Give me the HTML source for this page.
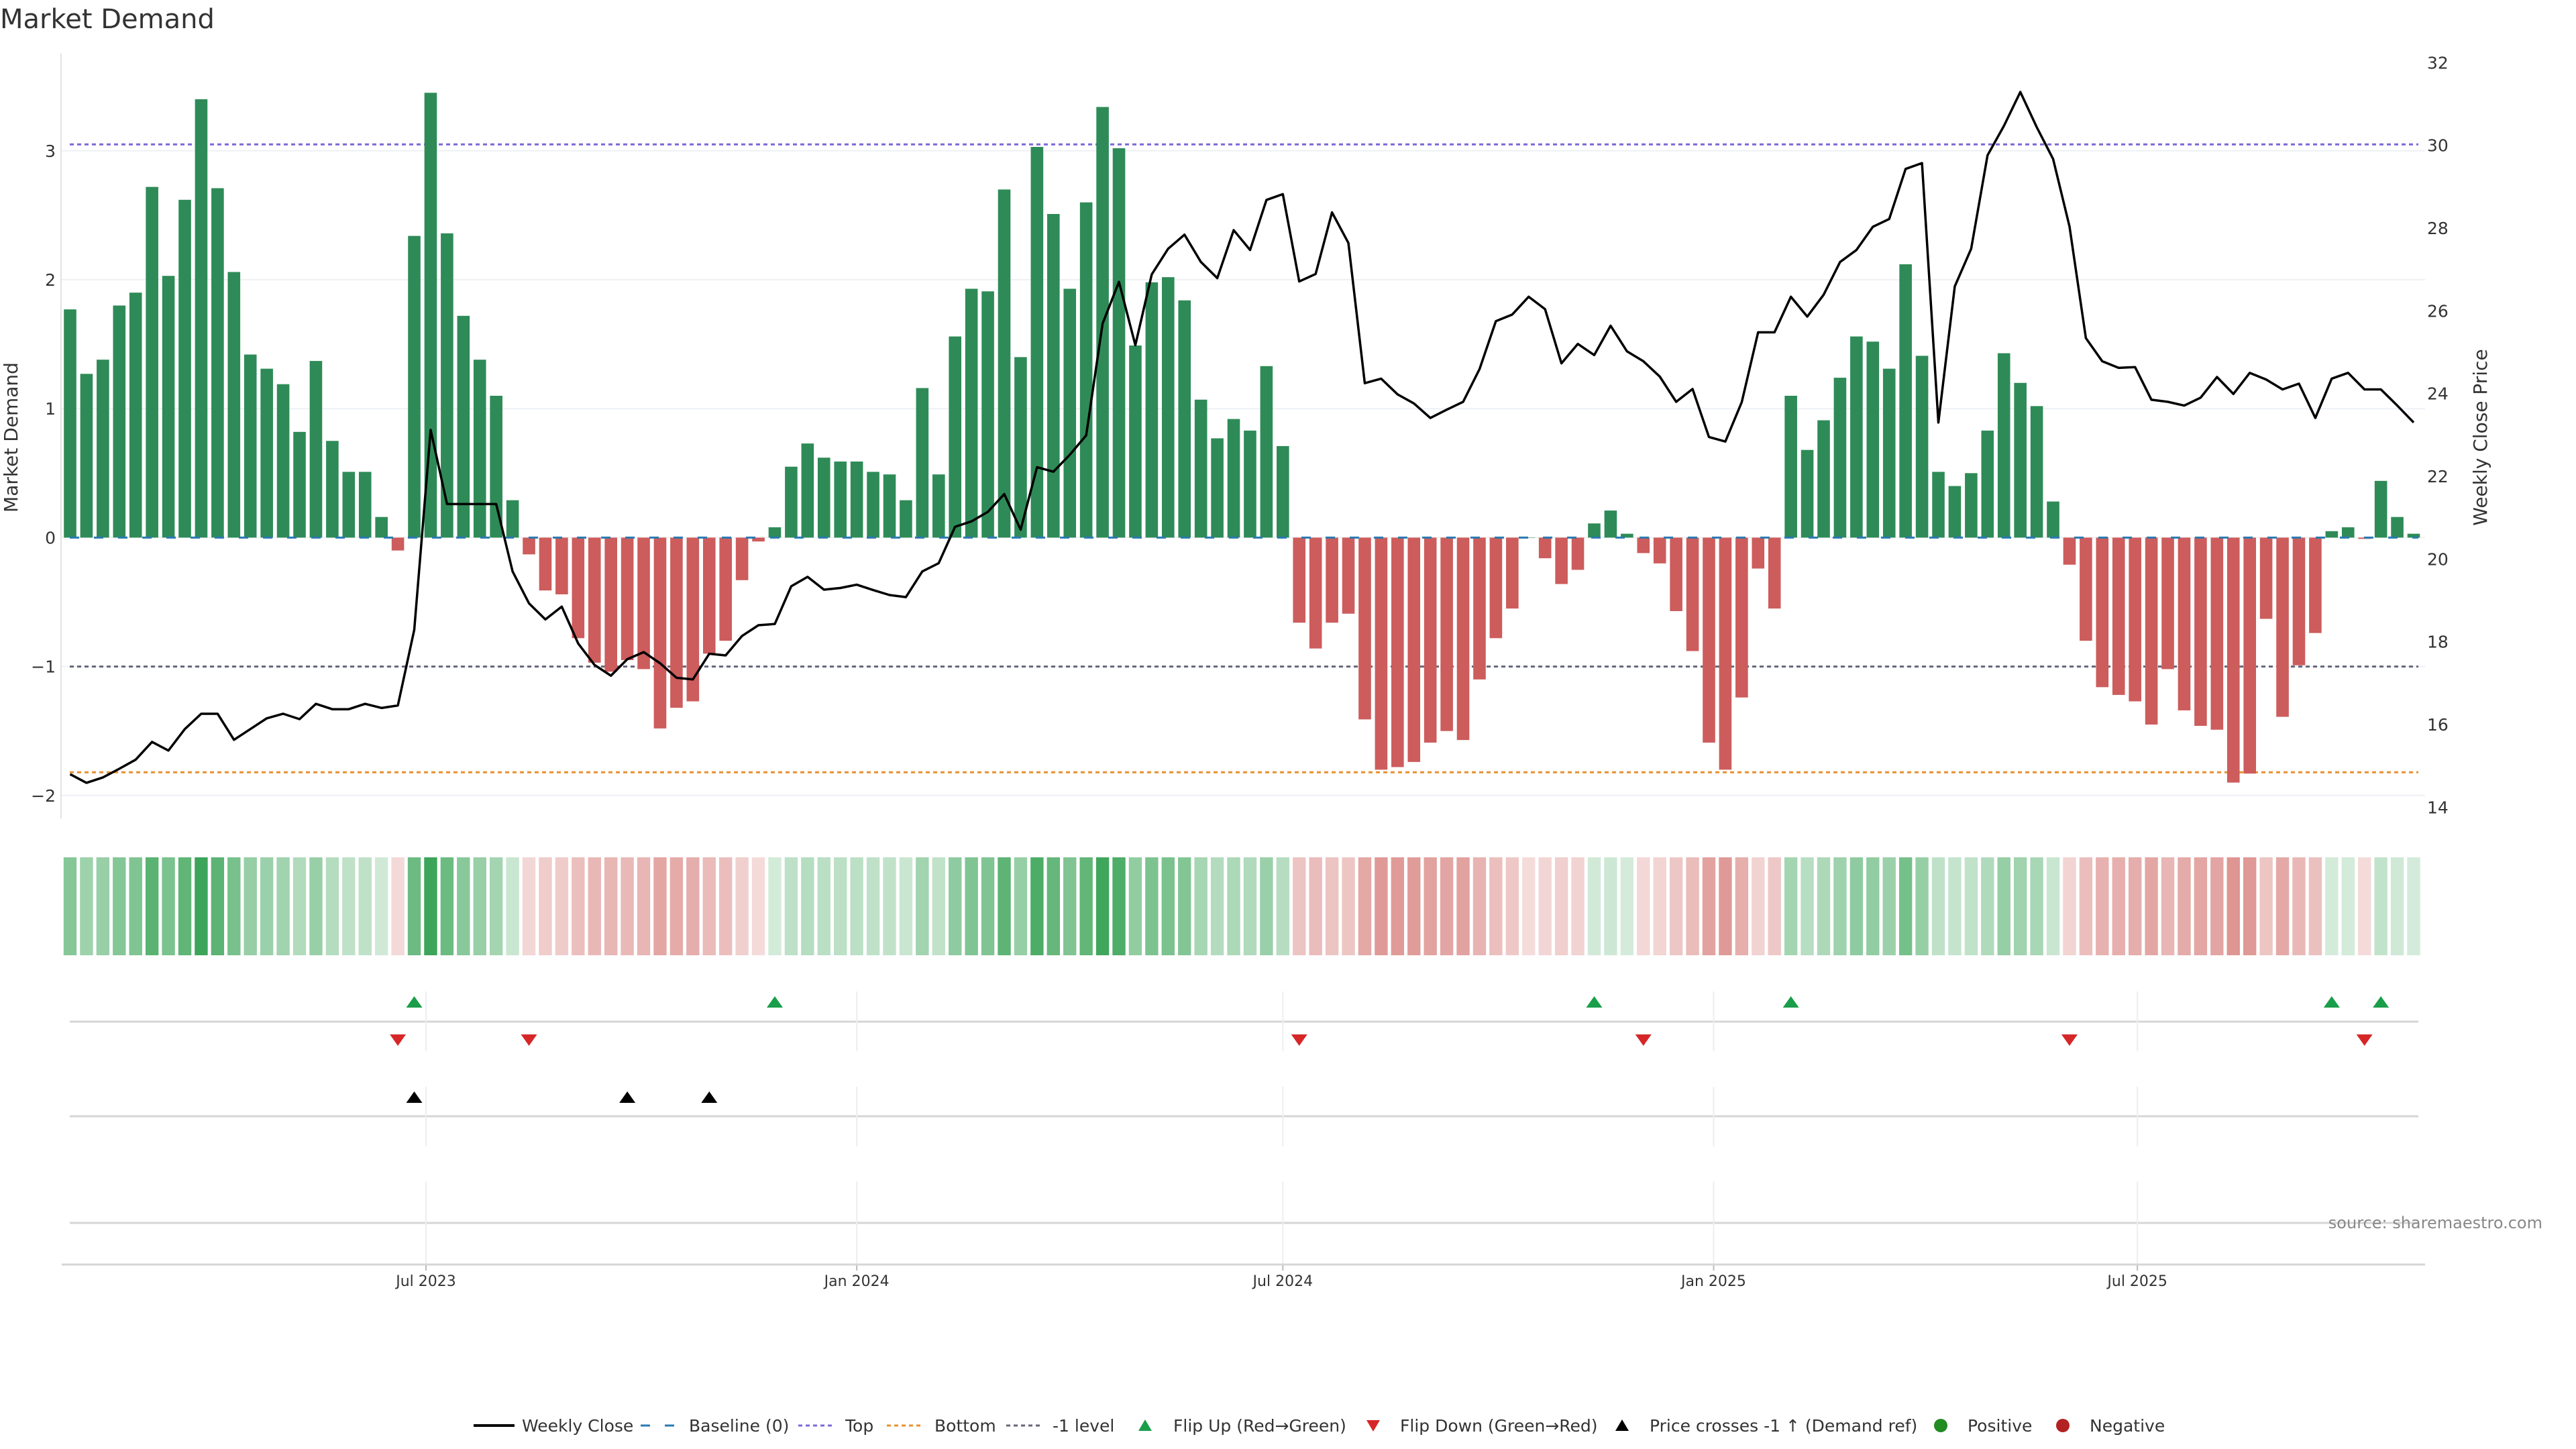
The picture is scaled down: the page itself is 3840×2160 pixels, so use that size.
<!DOCTYPE html>
<html><head><meta charset="utf-8"><title>Market Demand</title>
<style>html,body{margin:0;padding:0;background:#fff;}svg{display:block;font-family:"DejaVu Sans","Liberation Sans",sans-serif;}</style>
</head><body>
<svg id="chart" width="3840" height="2160" viewBox="0 0 3840 2160" xmlns="http://www.w3.org/2000/svg">
<text x="0" y="42" font-size="40" fill="#333">Market Demand</text>
<g id="grid"></g><g id="refs"></g><g id="bars"></g><g id="line"></g><g id="heat"></g><g id="lower"></g><g id="axes"></g><g id="legend"></g>
<text x="3790" y="1831" font-size="24" fill="#888" text-anchor="end">source: sharemaestro.com</text>
</svg>
<script>
const demand = [1.77,1.27,1.38,1.80,1.90,2.72,2.03,2.62,3.40,2.71,2.06,1.42,1.31,1.19,0.82,1.37,0.75,0.51,0.51,0.16,
-0.10,2.34,3.45,2.36,1.72,1.38,1.10,0.29,
-0.13,-0.41,-0.44,-0.78,-0.97,-1.04,-0.95,-1.02,-1.48,-1.32,-1.27,-0.90,-0.80,-0.33,-0.03,
0.08,0.55,0.73,0.62,0.59,0.59,
0.51,0.49,0.29,1.16,0.49,1.56,1.93,1.91,2.70,1.40,3.03,2.51,1.93,2.60,3.34,3.02,1.49,1.98,2.02,1.84,1.07,0.77,0.92,0.83,1.33,0.71,
-0.66,-0.86,-0.66,-0.59,-1.41,-1.80,-1.78,-1.74,-1.59,-1.50,-1.57,-1.10,-0.78,-0.55,0.00,
-0.16,-0.36,-0.25,0.11,0.21,0.03,-0.12,-0.20,-0.57,-0.88,-1.59,-1.80,-1.24,-0.24,-0.55,
1.10,0.68,0.91,1.24,1.56,1.52,1.31,2.12,1.41,0.51,0.40,0.50,0.83,1.43,1.20,1.02,0.28,
-0.21,-0.80,-1.16,-1.22,-1.27,-1.45,-1.02,-1.34,-1.46,-1.49,-1.90,-1.83,-0.63,-1.39,-0.99,-0.74,
0.05,0.08,-0.01,0.44,0.16,0.03];
const price = [14.80,14.59,14.72,14.93,15.15,15.58,15.37,15.89,16.26,16.26,15.63,15.89,16.15,16.26,16.13,16.50,16.37,16.37,16.50,16.40,
16.46,18.29,23.12,21.33,21.33,21.33,21.33,19.70,18.93,18.54,18.85,17.96,17.44,17.18,17.58,17.75,17.48,17.13,17.09,17.71,
17.67,18.14,18.40,18.43,19.34,19.57,19.26,19.30,19.38,19.25,19.13,19.08,19.70,19.90,20.78,20.91,21.14,21.57,20.71,22.22,
22.11,22.52,22.99,25.69,26.70,25.17,26.88,27.50,27.84,27.18,26.79,27.95,27.47,28.68,28.82,26.71,26.89,28.38,27.64,24.25,
24.36,23.98,23.76,23.41,23.61,23.80,24.59,25.75,25.91,26.34,26.04,24.73,25.20,24.93,25.64,25.02,24.78,24.41,23.80,24.11,
22.95,22.84,23.79,25.48,25.48,26.34,25.86,26.39,27.18,27.47,28.03,28.22,29.43,29.57,23.30,26.59,27.50,29.76,30.47,31.29,
30.44,29.67,28.04,25.34,24.78,24.62,24.64,23.85,23.80,23.71,23.90,24.40,23.99,24.50,24.34,24.10,24.24,23.41,24.36,24.50,
24.10,24.10,23.71,23.30];
const demandTicks = [-2,-1,0,1,2,3];
const demandTickLabels = ["\u22122","\u22121","0","1","2","3"];
const priceTicks = [14,16,18,20,22,24,26,28,30,32];
const refLevels = [3.05,-1,-1.82];
const dateTicks = ["2023-07-01","2024-01-01","2024-07-01","2025-01-01","2025-07-01"];
const dateTickLabels = ["Jul 2023","Jan 2024","Jul 2024","Jan 2025","Jul 2025"];
const startDate = "2023-01-30";

const NS="http://www.w3.org/2000/svg";
function mk(tag,attrs,parent){const e=document.createElementNS(NS,tag);for(const k in attrs)e.setAttribute(k,attrs[k]);parent.appendChild(e);return e;}
const X0=104.5, PITCH=24.43;
const xi=i=>X0+i*PITCH;
const yD=v=>801.4-v*192.2;
const yP=p=>93.3+(32-p)*61.67;
const xDate=d=>X0+((new Date(d)-new Date(startDate))/86400000)/7*PITCH;
const PL=91, PR=3615;

const grid=document.getElementById('grid');
demandTicks.forEach((t,k)=>{
  const l=mk('line',{x1:PL,x2:PR,y1:yD(t),y2:yD(t),stroke:'#eef0f5','stroke-width':2},grid);
  
  
  const tx=mk('text',{x:83,y:yD(t)+9,'font-size':25,fill:'#333','text-anchor':'end'},grid);
  tx.textContent=demandTickLabels[k];
  
  
});
priceTicks.forEach(t=>{
  const tx=mk('text',{x:3618,y:yP(t)+9,'font-size':25,fill:'#333'},grid);
  tx.textContent=String(t);
  
  
});
const ax=mk('line',{x1:PL,x2:PL,y1:80,y2:1220,stroke:'#e2e2e2','stroke-width':2},grid);


const yl=mk('text',{x:0,y:0,'font-size':28,fill:'#333','text-anchor':'middle',transform:'translate(26,652) rotate(-90)'},grid);
yl.textContent='Market Demand';


const yr=mk('text',{x:0,y:0,'font-size':28,fill:'#333','text-anchor':'middle',transform:'translate(3707,652) rotate(-90)'},grid);
yr.textContent='Weekly Close Price';



const refs=document.getElementById('refs');
const refColors=['#7b68d8','#666677','#e8902e'];
const refNames=['top-line','minus-one-line','bottom-line'];
refLevels.forEach((v,k)=>{
  const l=mk('line',{x1:104,x2:3605,y1:yD(v),y2:yD(v),stroke:refColors[k],'stroke-width':3,'stroke-dasharray':'6,5'},refs);
  
  
});

const bars=document.getElementById('bars');
demand.forEach((v,i)=>{
  const y0=yD(0), y1=yD(v);
  const r=mk('rect',{x:xi(i)-9.3,y:Math.min(y0,y1),width:18.6,height:Math.max(Math.abs(y1-y0),0.5),fill:v>=0?'#2e8b57':'#cd5c5c'},bars);
  
  
});
const bl=mk('line',{x1:104,x2:3605,y1:yD(0),y2:yD(0),stroke:'#2a7ab0','stroke-width':3,'stroke-dasharray':'14,22'},bars);



const lineG=document.getElementById('line');
const pl=mk('polyline',{points:price.map((p,i)=>xi(i)+','+yP(p)).join(' '),fill:'none',stroke:'#000','stroke-width':3.5,'stroke-linejoin':'round'},lineG);



const heat=document.getElementById('heat');
demand.forEach((v,i)=>{
  const a=Math.min(0.95,0.2+0.22*Math.abs(v));
  const c=v>0?`rgba(50,160,80,${a})`:`rgba(200,80,75,${Math.min(0.65,0.2+0.21*Math.abs(v))})`;
  const r=mk('rect',{x:xi(i)-9.7,y:1278,width:19.4,height:146,fill:c},heat);
  
  
});

const lower=document.getElementById('lower');
[1523,1664,1823].forEach(y=>{
  const l=mk('line',{x1:104,x2:3605,y1:y,y2:y,stroke:'#d6d6d6','stroke-width':3},lower);
  
  
});
dateTicks.forEach((d,k)=>{
  const x=xDate(d);
  [[1478,1567],[1620,1709],[1761,1884]].forEach(s=>{
    const g=mk('line',{x1:x,x2:x,y1:s[0],y2:s[1],stroke:'#eceef2','stroke-width':2},lower);
    
    
  });
  const tk=mk('line',{x1:x,x2:x,y1:1885,y2:1894,stroke:'#bbb','stroke-width':2},lower);
  
  
  const t=mk('text',{x:x,y:1917,'font-size':22,fill:'#333','text-anchor':'middle'},lower);
  t.textContent=dateTickLabels[k];
  
  
});
const xa=mk('line',{x1:92,x2:3615,y1:1885,y2:1885,stroke:'#d6d6d6','stroke-width':3},lower);



function tri(x,y,up,color,name){
  const p=up?`${x-12},${y+8} ${x+12},${y+8} ${x},${y-9}`:`${x-12},${y-8} ${x+12},${y-8} ${x},${y+9}`;
  const t=mk('polygon',{points:p,fill:color},lower);
  
  
}
const minusOnePrice=32-(yD(-1)-93.3)/61.67;
for(let i=1;i<demand.length;i++){
  if(demand[i-1]<=0&&demand[i]>0) tri(xi(i),1494,true,'#1a9e4a','flip-up-marker');
  if(demand[i-1]>0&&demand[i]<=0) tri(xi(i),1550,false,'#d62728','flip-down-marker');
  if(price[i-1]<minusOnePrice&&price[i]>=minusOnePrice) tri(xi(i),1636,true,'#000','price-cross-marker');
}

const lg=document.getElementById('legend');
const LY=2125;
function ltext(x,s){const t=mk('text',{x:x,y:LY+9,'font-size':25,fill:'#333'},lg);t.textContent=s;}
function lline(x1,x2,c,dash,w){const l=mk('line',{x1:x1,x2:x2,y1:LY,y2:LY,stroke:c,'stroke-width':w,'stroke-dasharray':dash},lg);}
lline(706,767,'#000','none',4);ltext(778,'Weekly Close');
lline(955,1012,'#2a7ab0','14,22',3);ltext(1027,'Baseline (0)');
lline(1190,1245,'#7b68d8','6,5',3);ltext(1260,'Top');
lline(1322,1377,'#e8902e','6,5',3);ltext(1393,'Bottom');
lline(1500,1555,'#666677','6,5',3);ltext(1569,'-1 level');
function ltri(x,up,c){const p=up?`${x-10},${LY+8} ${x+10},${LY+8} ${x},${LY-9}`:`${x-10},${LY-8} ${x+10},${LY-8} ${x},${LY+9}`;const t=mk('polygon',{points:p,fill:c},lg);}
ltri(1707,true,'#1a9e4a');ltext(1749,'Flip Up (Red\u2192Green)');
ltri(2047,false,'#d62728');ltext(2087,'Flip Down (Green\u2192Red)');
ltri(2418,true,'#000');ltext(2459,'Price crosses -1 \u2191 (Demand ref)');
const c1=mk('circle',{cx:2893,cy:LY,r:10,fill:'#228b22'},lg);


ltext(2933,'Positive');
const c2=mk('circle',{cx:3075,cy:LY,r:10,fill:'#b22222'},lg);


ltext(3115,'Negative');
</script>
</body></html>
